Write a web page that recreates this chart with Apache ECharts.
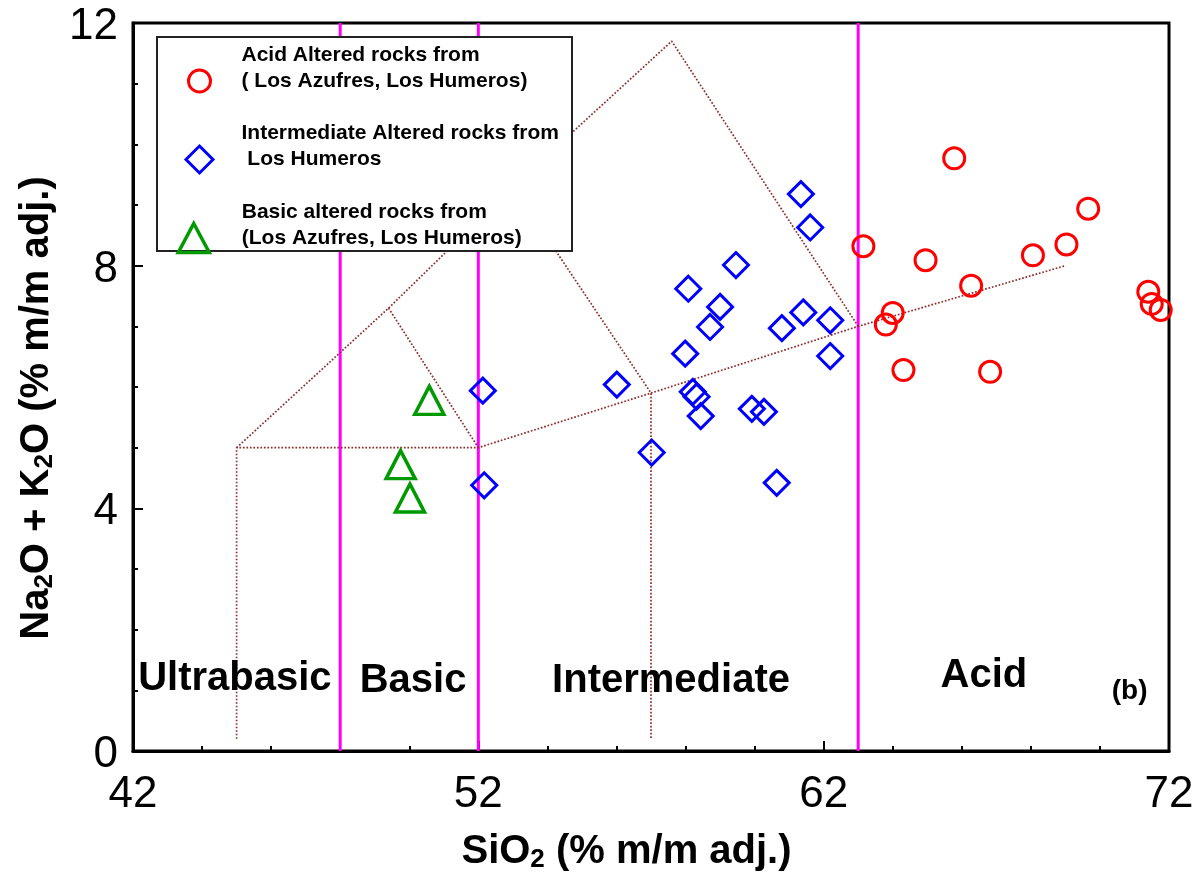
<!DOCTYPE html>
<html>
<head>
<meta charset="utf-8">
<title>TAS diagram - altered rocks</title>
<script src="https://cdn.jsdelivr.net/npm/echarts@6.0.0/dist/echarts.min.js"></script>
<style>
  html, body { margin: 0; padding: 0; background: #ffffff; }
  #chart { width: 1202px; height: 878px; }
</style>
</head>
<body>
<div id="chart"></div>
<script>
// ---- Sample data: SiO2 vs Na2O + K2O (% m/m adj.) ----
// Acid altered rocks (Los Azufres, Los Humeros)
const acidSiO2   = [63.15, 65.78, 69.66, 64.95, 68.06, 69.03, 66.27, 64.00, 63.80, 64.31, 66.82, 71.40, 71.50, 71.76];
const acidAlkali = [8.32, 9.77, 8.94, 8.09, 8.17, 8.35, 7.67, 7.22, 7.03, 6.28, 6.25, 7.57, 7.37, 7.27];

// Intermediate altered rocks (Los Humeros)
const interSiO2   = [52.13, 52.17, 56.01, 57.02, 58.08, 57.99, 58.21, 58.32, 58.44, 58.71, 59.00,
                     59.46, 59.92, 60.27, 60.64, 60.79, 61.34, 61.61, 61.41, 62.19, 62.19];
const interAlkali = [5.94, 4.38, 6.04, 4.92, 7.62, 6.55, 5.92, 5.84, 5.52, 6.99, 7.32,
                     8.01, 5.64, 5.59, 4.42, 6.97, 9.18, 8.63, 7.23, 7.10, 6.51];

// Basic altered rocks (Los Azufres, Los Humeros)
const basicSiO2   = [50.58, 49.75, 50.02];
const basicAlkali = [5.78, 4.72, 4.17];

const seriesNames = [
  'Acid Altered rocks from\n( Los Azufres, Los Humeros)',
  'Intermediate Altered rocks from\n Los Humeros',
  'Basic altered rocks from\n(Los Azufres, Los Humeros)'
];

// Silica class limits (ultrabasic / basic / intermediate / acid)
const classLimits = [48, 52, 63];

// TAS field boundaries (SiO2, alkali) polylines
const tasBoundaries = [
  [[45, 0.2], [45, 5], [52, 5], [57, 5.9], [63, 7], [69, 8]],
  [[45, 5], [49.4, 7.3], [53, 9.3], [57.6, 11.7], [63, 7]],
  [[49.4, 7.3], [52, 5]],
  [[53, 9.3], [57, 5.9], [57, 0.2]]
];

// Field names and their anchor positions
const regionNames = ['Ultrabasic', 'Basic', 'Intermediate', 'Acid'];
const regionSiO2  = [44.95, 50.11, 57.58, 66.64];
const regionAlk   = [1.18, 1.15, 1.15, 1.24];
const panelTag = ['(b)'];
const panelTagPos = [70.86, 0.99];

// Axis ranges
const xRange = [42, 72];
const yRange = [0, 12];

const FONT = '"Liberation Sans", Arial, Helvetica, sans-serif';

const zip = (a, b) => a.map((v, i) => [v, b[i]]);

const chart = echarts.init(document.getElementById('chart'), null, { renderer: 'canvas' });

const series = [];

// class limit verticals
classLimits.forEach(x => {
  series.push({
    type: 'line', silent: true, symbol: 'none', z: 1,
    data: [[x, yRange[0]], [x, yRange[1]]],
    lineStyle: { color: '#ff00ff', width: 3 }
  });
});

// TAS boundaries
tasBoundaries.forEach(poly => {
  series.push({
    type: 'line', silent: true, symbol: 'none', z: 1,
    data: poly,
    lineStyle: { color: '#8e2b2b', width: 1.7, type: [1.7, 1.8] }
  });
});

// Rock groups
series.push({
  name: seriesNames[0], type: 'scatter', z: 5,
  data: zip(acidSiO2, acidAlkali),
  symbol: 'circle', symbolSize: 21,
  itemStyle: { color: 'rgba(255,255,255,0)', borderColor: '#ff0000', borderWidth: 3, opacity: 1 }
});
series.push({
  name: seriesNames[1], type: 'scatter', z: 5,
  data: zip(interSiO2, interAlkali),
  symbol: 'diamond', symbolSize: 25,
  itemStyle: { color: 'rgba(255,255,255,0)', borderColor: '#0000ff', borderWidth: 3, opacity: 1 }
});
series.push({
  name: seriesNames[2], type: 'scatter', z: 5,
  data: zip(basicSiO2, basicAlkali),
  symbol: 'triangle', symbolSize: [29, 28],
  itemStyle: { color: 'rgba(255,255,255,0)', borderColor: '#009a00', borderWidth: 3.5, opacity: 1 }
});

// Field names
series.push({
  type: 'scatter', silent: true, z: 6,
  symbolSize: 1, itemStyle: { color: 'rgba(0,0,0,0)', opacity: 1 },
  data: regionNames.map((n, i) => ({ name: n, value: [regionSiO2[i], regionAlk[i]] })),
  label: {
    show: true, position: 'inside', formatter: '{b}',
    fontFamily: FONT, fontSize: 40, fontWeight: 'bold', color: '#000'
  }
});
series.push({
  type: 'scatter', silent: true, z: 6,
  symbolSize: 1, itemStyle: { color: 'rgba(0,0,0,0)', opacity: 1 },
  data: [{ name: panelTag[0], value: panelTagPos }],
  label: {
    show: true, position: 'inside', formatter: '{b}',
    fontFamily: FONT, fontSize: 28, fontWeight: 'bold', color: '#000'
  }
});

// legend text: an extra blank line keeps the symbol level with the second text line
const legendText = (padLeft) => ({
  fontFamily: FONT, fontSize: 21, fontWeight: 'bold', color: '#000',
  lineHeight: 26, padding: [0, 0, 0, padLeft]
});
const legendFormatter = name => name + '\n ';

const titleRich = (size, subSize) => ({
  t: { fontFamily: FONT, fontSize: size, fontWeight: 'bold', color: '#000', lineHeight: 42, verticalAlign: 'middle' },
  s: { fontFamily: FONT, fontSize: subSize, fontWeight: 'bold', color: '#000', lineHeight: 22, verticalAlign: 'bottom' }
});

const option = {
  backgroundColor: '#ffffff',
  animation: false,
  textStyle: { fontFamily: FONT },
  grid: {
    left: 133, right: 33, top: 23, bottom: 124,
    show: true, borderColor: '#000', borderWidth: 3, backgroundColor: 'rgba(0,0,0,0)'
  },
  xAxis: {
    type: 'value', min: xRange[0], max: xRange[1], interval: 10,
    name: '{t|SiO}{s|2}{t| (% m/m adj.)}',
    nameLocation: 'middle', nameGap: 80,
    nameTextStyle: { rich: titleRich(40, 26), padding: [0, 49, 0, 0] },
    axisLine: { show: true, onZero: false, lineStyle: { color: '#000', width: 3 } },
    axisTick: { show: true, inside: true, length: 10, lineStyle: { color: '#000', width: 2 } },
    minorTick: { show: true, splitNumber: 5, length: 5, lineStyle: { color: '#000', width: 2 } },
    splitLine: { show: false },
    minorSplitLine: { show: false },
    axisLabel: { fontFamily: FONT, fontSize: 44, color: '#000', margin: 22 }
  },
  yAxis: {
    type: 'value', min: yRange[0], max: yRange[1], interval: 4,
    name: '{t|Na}{s|2}{t|O + K}{s|2}{t|O (% m/m adj.)}',
    nameLocation: 'middle', nameGap: 70,
    nameTextStyle: { rich: titleRich(40, 26), padding: [0, 42, 0, 0] },
    axisLine: { show: true, onZero: false, lineStyle: { color: '#000', width: 3 } },
    axisTick: { show: true, inside: true, length: 10, lineStyle: { color: '#000', width: 2 } },
    minorTick: { show: true, splitNumber: 4, length: 5, lineStyle: { color: '#000', width: 2 } },
    splitLine: { show: false },
    minorSplitLine: { show: false },
    axisLabel: { fontFamily: FONT, fontSize: 44, color: '#000', margin: 15, verticalAlign: 'top', lineHeight: 8 }
  },
  graphic: [{
    type: 'rect', z: 10, silent: true,
    shape: { x: 157, y: 37, width: 415, height: 214 },
    style: { fill: '#ffffff', stroke: '#222222', lineWidth: 2 }
  }],
  legend: [
    {
      data: [seriesNames[0]], orient: 'vertical', left: 187, top: 42, padding: 0, z: 20,
      itemWidth: 22, itemHeight: 22, itemStyle: { borderWidth: 3 },
      formatter: legendFormatter, textStyle: legendText(26), selectedMode: false
    },
    {
      data: [seriesNames[1]], orient: 'vertical', left: 184.5, top: 120.5, padding: 0, z: 20,
      itemWidth: 27, itemHeight: 27, itemStyle: { borderWidth: 3 },
      formatter: legendFormatter, textStyle: legendText(23.5), selectedMode: false
    },
    {
      data: [seriesNames[2]], orient: 'vertical', left: 176.5, top: 199, padding: 0, z: 20,
      itemWidth: 31, itemHeight: 29, itemStyle: { borderWidth: 3.5 },
      formatter: legendFormatter, textStyle: legendText(27.5), selectedMode: false
    }
  ],
  series: series
};

chart.setOption(option);
</script>
</body>
</html>
